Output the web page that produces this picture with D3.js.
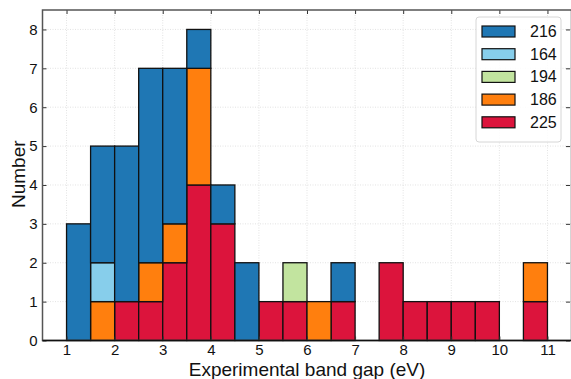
<!DOCTYPE html>
<html>
<head>
<meta charset="utf-8">
<script src="https://cdn.jsdelivr.net/npm/d3@7"></script>
<style>
  body { margin: 0; background: #fff; }
  svg { font-family: "Liberation Sans", Arial, sans-serif; }
</style>
</head>
<body>
<svg width="571" height="379"></svg>
<script>
// Stacked histogram of experimental band gaps
const binStarts = [1, 1.5, 2, 2.5, 3, 3.5, 4, 4.5, 5, 5.5, 6, 6.5, 7, 7.5, 8, 8.5, 9, 9.5, 10, 10.5];
const binWidth = 0.5;
// series listed bottom to top of each stack
const seriesNames = ['225', '186', '194', '164', '216'];
const s225 = [0, 0, 1, 1, 2, 4, 3, 0, 1, 1, 0, 1, 0, 2, 1, 1, 1, 1, 0, 1];
const s186 = [0, 1, 0, 1, 1, 3, 0, 0, 0, 0, 1, 0, 0, 0, 0, 0, 0, 0, 0, 1];
const s194 = [0, 0, 0, 0, 0, 0, 0, 0, 0, 1, 0, 0, 0, 0, 0, 0, 0, 0, 0, 0];
const s164 = [0, 1, 0, 0, 0, 0, 0, 0, 0, 0, 0, 0, 0, 0, 0, 0, 0, 0, 0, 0];
const s216 = [3, 3, 4, 5, 4, 1, 1, 2, 0, 0, 0, 1, 0, 0, 0, 0, 0, 0, 0, 0];
const seriesValues = [s225, s186, s194, s164, s216];
const legendOrder = ['216', '164', '194', '186', '225'];
const xTicks = [1, 2, 3, 4, 5, 6, 7, 8, 9, 10, 11];
const yTicks = [0, 1, 2, 3, 4, 5, 6, 7, 8];

const COLORS = {'216': '#1f77b4', '164': '#87ceeb', '194': '#c2e49f', '186': '#ff7f0e', '225': '#dc143c'};

const SVG = d3.select('svg');
const LEFT = 42.5, RIGHT = 571.5, TOP = 10, BOTTOM = 340.5;

const xScale = d3.scaleLinear().domain([0.5, 11.5]).range([LEFT, RIGHT]);
const yScale = d3.scaleLinear().domain([0, 8.5]).range([BOTTOM, TOP]);

// grid
const grid = SVG.append('g').attr('stroke', '#dcdcdc').attr('stroke-width', 0.8).attr('stroke-dasharray', '1,1.5');
grid.selectAll('.gx').data(xTicks).enter().append('line')
    .attr('x1', d => xScale(d)).attr('x2', d => xScale(d))
    .attr('y1', TOP).attr('y2', BOTTOM);
grid.selectAll('.gy').data(yTicks.slice(1)).enter().append('line')
    .attr('x1', LEFT).attr('x2', RIGHT)
    .attr('y1', d => yScale(d)).attr('y2', d => yScale(d));

// stacked bars
const table = binStarts.map((b, i) => {
  const row = {start: b};
  seriesNames.forEach((n, k) => row[n] = seriesValues[k][i]);
  return row;
});
const stacked = d3.stack().keys(seriesNames)(table);

SVG.append('g').selectAll('g')
    .data(stacked)
    .enter().append('g')
    .attr('fill', d => COLORS[d.key])
    .selectAll('rect')
    .data(d => d.filter(p => p[1] > p[0]))
    .enter().append('rect')
        .attr('x', d => xScale(d.data.start))
        .attr('y', d => yScale(d[1]))
        .attr('width', d => xScale(d.data.start + binWidth) - xScale(d.data.start))
        .attr('height', d => yScale(d[0]) - yScale(d[1]))
        .attr('stroke', '#111')
        .attr('stroke-width', 1.3);

// axes with inward ticks on all sides
const xAxis = d3.axisBottom(xScale).tickValues(xTicks).tickSize(-4).tickSizeOuter(0).tickPadding(4);
const yAxis = d3.axisLeft(yScale).tickValues(yTicks).tickSize(-4).tickSizeOuter(0).tickPadding(5);
const xTop = d3.axisTop(xScale).tickValues(xTicks).tickSize(-4).tickSizeOuter(0).tickFormat('');
const yRight = d3.axisRight(yScale).tickValues(yTicks).tickSize(-4).tickSizeOuter(0).tickFormat('');

SVG.append('g').attr('transform', `translate(0, ${BOTTOM})`).call(xAxis);
SVG.append('g').attr('transform', `translate(${LEFT}, 0)`).call(yAxis);
SVG.append('g').attr('transform', `translate(0, ${TOP})`).call(xTop);
SVG.append('g').attr('transform', `translate(${RIGHT - 1.5}, 0)`).call(yRight);

SVG.selectAll('.domain').remove();
SVG.selectAll('.tick line').attr('stroke', '#333').attr('stroke-width', 1);
SVG.selectAll('.tick text').style('font-size', '15px').attr('fill', '#111')
    .style('font-family', '"Liberation Sans", Arial, sans-serif');

// spines
SVG.append('rect').attr('x', LEFT).attr('y', TOP)
    .attr('width', RIGHT - LEFT).attr('height', BOTTOM - TOP)
    .attr('fill', 'none').attr('stroke', '#555').attr('stroke-width', 1.5);
SVG.append('line').attr('x1', LEFT).attr('x2', RIGHT).attr('y1', BOTTOM).attr('y2', BOTTOM)
    .attr('stroke', '#111').attr('stroke-width', 1.5);

// axis titles
SVG.append('text').attr('x', (LEFT + RIGHT) / 2)
    .attr('y', 376)
    .style('text-anchor', 'middle')
    .style('font-size', '19px')
    .attr('fill', '#111')
    .text('Experimental band gap (eV)');

SVG.append('text').attr('transform', 'rotate(-90)')
    .attr('x', -(TOP + BOTTOM) / 2 + 1)
    .attr('y', 25)
    .style('text-anchor', 'middle')
    .style('font-size', '19px')
    .attr('fill', '#111')
    .text('Number');

// legend
const legend = SVG.append('g').attr('transform', 'translate(476, 17)');
legend.append('rect').attr('width', 85).attr('height', 125).attr('rx', 3)
    .attr('fill', 'rgba(255,255,255,0.85)').attr('stroke', '#d6d6d6').attr('stroke-width', 1);
const items = legend.selectAll('.item').data(legendOrder).enter().append('g')
    .attr('transform', (d, i) => `translate(6, ${9 + i * 22.7})`);
items.append('rect').attr('width', 33).attr('height', 11)
    .attr('fill', d => COLORS[d]).attr('stroke', '#111').attr('stroke-width', 1.2);
items.append('text').attr('x', 48).attr('y', 11)
    .style('font-size', '16px').attr('fill', '#111')
    .text(d => d);
</script>
</body>
</html>
